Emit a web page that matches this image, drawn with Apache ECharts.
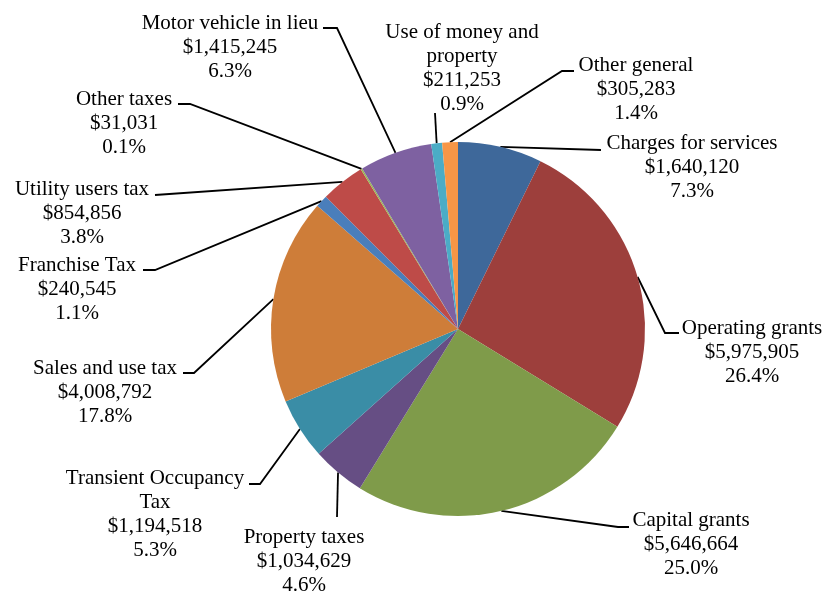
<!DOCTYPE html>
<html><head><meta charset="utf-8">
<script src="https://cdn.jsdelivr.net/npm/echarts@6/dist/echarts.min.js"></script>
<style>html,body{margin:0;padding:0;background:#fff}#c{width:824px;height:593px}</style>
</head><body><div id="c"></div>
<script>
// ---- data ----
const categories = [
  'Charges for services', 'Operating grants', 'Capital grants', 'Property taxes',
  'Transient Occupancy Tax', 'Sales and use tax', 'Franchise Tax', 'Utility users tax',
  'Other taxes', 'Motor vehicle in lieu', 'Use of money and property', 'Other general'
];
const values = [
  1640120, 5975905, 5646664, 1034629,
  1194518, 4008792, 240545, 854856,
  31031, 1415245, 211253, 305283
];
// percentages as printed on the chart
const percents = [
  '7.3', '26.4', '25.0', '4.6',
  '5.3', '17.8', '1.1', '3.8',
  '0.1', '6.3', '0.9', '1.4'
];
// ---- styles ----
const colors = [
  '#3E689A', '#9D3F3C', '#7F9B4A', '#664E84',
  '#3A8DA6', '#CE7D39', '#4A7EBB', '#BE4B48',
  '#98B954', '#7E61A1', '#4BACC6', '#F79646'
];
// label line breaks for long names
const nameBreaks = {
  'Transient Occupancy Tax': 'Transient Occupancy\nTax',
  'Use of money and property': 'Use of money and\nproperty'
};
// label block placement: [centre x, first-line centre y]
const labelPlace = [
  [692, 143], [752, 328], [691, 520], [304, 537],
  [155, 478], [105, 368], [77, 265], [82, 189],
  [124, 99], [230, 23], [462, 32], [636, 65]
];
// leader line points after the slice-edge anchor
const leaderPts = [
  [[601, 150]],
  [[665, 333], [679, 333]],
  [[618, 527], [629, 527]],
  [[337, 517]],
  [[260, 484], [249, 484]],
  [[194, 373], [183, 373]],
  [[155, 270], [143, 270]],
  [[155, 195]],
  [[190, 104], [178, 104]],
  [[337, 28], [323, 28]],
  [[435, 113]],
  [[562, 71], [574, 71]]
];
const LH = 24;
const CX = 458, CY = 329, R = 187;

const chart = echarts.init(document.getElementById('c'));
const total = values.reduce((a, b) => a + b, 0);
let cum = 0;
const anchors = values.map(v => {
  const mid = (cum + v / 2) / total * Math.PI * 2; cum += v;
  return [CX + R * Math.sin(mid), CY - R * Math.cos(mid)];
});

chart.setOption({
  animation: false,
  backgroundColor: '#fff',
  textStyle: { fontFamily: 'Liberation Serif' },
  series: [{
    type: 'pie',
    center: [CX, CY],
    radius: R,
    startAngle: 90,
    clockwise: true,
    avoidLabelOverlap: false,
    minShowLabelAngle: 0,
    data: categories.map((c, i) => ({ name: c, value: values[i], itemStyle: { color: colors[i] } })),
    itemStyle: { borderWidth: 0 },
    label: {
      show: true,
      position: 'outside',
      fontFamily: 'Liberation Serif',
      fontSize: 21,
      lineHeight: LH,
      color: '#000',
      align: 'center',
      formatter: p => (nameBreaks[p.name] || p.name) + '\n$' + p.value.toLocaleString('en-US') + '\n' + percents[p.dataIndex] + '%'
    },
    labelLine: { show: true, length: 10, length2: 10, lineStyle: { color: '#000', width: 1.8 } },
    emphasis: { disabled: true },
    labelLayout: function (p) {
      const i = p.dataIndex;
      const a = anchors[i];
      return {
        x: labelPlace[i][0],
        y: labelPlace[i][1] - LH / 2,
        align: 'center',
        verticalAlign: 'top',
        labelLinePoints: [a].concat(leaderPts[i])
      };
    }
  }]
});
</script>
</body></html>
